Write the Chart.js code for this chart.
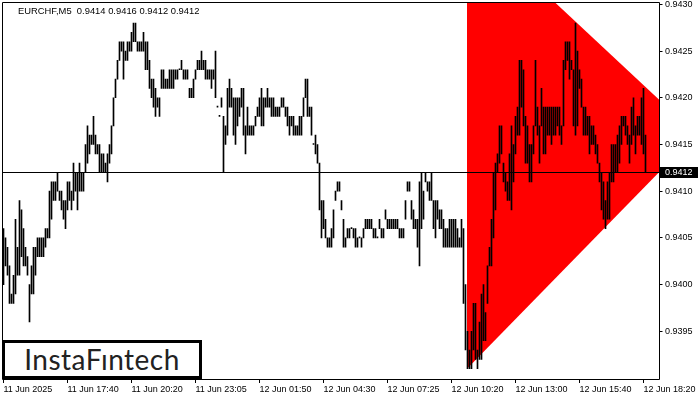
<!DOCTYPE html>
<html><head><meta charset="utf-8">
<script src="https://cdn.jsdelivr.net/npm/chart.js@4.4.1/dist/chart.umd.min.js"></script>
<style>
html,body{margin:0;padding:0;background:#fff;}
#wrap{position:relative;width:700px;height:400px;overflow:hidden;}
canvas{display:block;}
#logo{position:absolute;left:2px;top:340px;width:194px;height:33px;border:3px solid #000;background:#fff;
 font-family:Lato,"Open Sans",sans-serif;font-size:28px;color:#222;text-align:center;line-height:33px;letter-spacing:0.5px;}
</style></head><body>
<div id="wrap"><canvas id="c" width="700" height="400"></canvas><div id="logo">InstaFıntech</div></div>
<script>
const symbolTitle = "EURCHF,M5  0.9414 0.9416 0.9412 0.9412";
const xTickLabels = ["11 Jun 2025","11 Jun 17:40","11 Jun 20:20","11 Jun 23:05","12 Jun 01:50","12 Jun 04:30","12 Jun 07:25","12 Jun 10:20","12 Jun 13:00","12 Jun 15:40","12 Jun 18:20"];
const xTickEvery = 32;
const totalSlots = 328;
const yTickValues = [0.9395,0.9400,0.9405,0.9410,0.9415,0.9420,0.9425,0.9430];
const yMin = 0.93899, yMax = 0.943025;
const currentPrice = 0.9412;
// triangle pattern vertices (bar index, price)
const patternIndex = [231.75, 231.75, 346.3];
const patternPrice = [0.94390, 0.93910, 0.94161];

const highs = [
0.9406,0.9405,0.9404,0.9402,0.9399,0.9401,0.9407,0.9404,0.9409,0.9408,0.9406,0.9404,0.9403,0.9400,0.9402,0.9404,0.9404,0.9405,0.9405,0.9405,
0.9405,0.9406,0.9406,0.9410,0.9411,0.9411,0.9411,0.9412,0.9410,0.9410,0.9409,0.9409,0.9411,0.9411,0.9410,0.9413,0.9412,0.9412,0.9413,0.9412,
0.9412,0.9415,0.9417,0.9416,0.9416,0.9418,0.9416,0.9415,0.9415,0.9414,0.9414,0.9413,0.9414,0.9415,0.9417,0.9420,0.9422,0.9424,0.9426,0.9426,
0.9426,0.9425,0.9426,0.9426,0.9427,0.9428,0.9428,0.9426,0.9426,0.9426,0.9427,0.9426,0.9426,0.9424,0.9422,0.9422,0.9421,0.9420,0.9420,0.9423,
0.9423,0.9422,0.9422,0.9423,0.9423,0.9423,0.9423,0.9423,0.9423,0.9424,0.9423,0.9423,0.9423,0.9421,0.9421,0.9422,0.9423,0.9424,0.9424,0.9425,
0.9424,0.9424,0.9423,0.9423,0.9423,0.9423,0.9425,0.9419,0.9418,0.9420,0.9418,0.9417,0.9421,0.9422,0.9421,0.9420,0.9420,0.9420,0.9420,0.9421,
0.9421,0.9417,0.9419,0.9417,0.9417,0.9417,0.9418,0.9419,0.9420,0.9421,0.9420,0.9420,0.9421,0.9420,0.9420,0.9420,0.9419,0.9419,0.9419,0.9420,
0.9420,0.9419,0.9419,0.9418,0.9418,0.9418,0.9417,0.9417,0.9418,0.9418,0.9420,0.9422,0.9422,0.9419,0.9419,0.9415,0.9416,0.9415,0.9413,0.9409,
0.9409,0.9407,0.9405,0.9405,0.9406,0.9408,0.9410,0.9411,0.9411,0.9409,0.9407,0.9405,0.9406,0.9406,0.9406,0.9406,0.9406,0.9405,0.9405,0.9405,
0.9406,0.9407,0.9407,0.9407,0.9407,0.9406,0.9406,0.9405,0.9407,0.9406,0.9406,0.9408,0.9407,0.9407,0.9407,0.9407,0.9407,0.9407,0.9406,0.9406,
0.9406,0.9409,0.9411,0.9411,0.9409,0.9408,0.9407,0.9407,0.9411,0.9412,0.9410,0.9412,0.9411,0.9411,0.9412,0.9409,0.9409,0.9409,0.9408,0.9408,
0.9407,0.9406,0.9406,0.9407,0.9407,0.9407,0.9407,0.9406,0.9405,0.9407,0.9406,0.9400,0.9395,0.9393,0.9395,0.9398,0.9398,0.9393,0.9396,0.9399,
0.9400,0.9397,0.9402,0.9404,0.9407,0.9412,0.9413,0.9414,0.9417,0.9417,0.9413,0.9412,0.9411,0.9414,0.9417,0.9415,0.9418,0.9419,0.9424,0.9424,
0.9423,0.9418,0.9417,0.9415,0.9415,0.9417,0.9424,0.9419,0.9417,0.9421,0.9419,0.9419,0.9419,0.9419,0.9419,0.9419,0.9419,0.9419,0.9419,0.9417,
0.9424,0.9426,0.9426,0.9426,0.9424,0.9423,0.9428,0.9425,0.9423,0.9422,0.9419,0.9419,0.9418,0.9418,0.9417,0.9417,0.9416,0.9415,0.9413,0.9412,
0.9411,0.9409,0.9411,0.9412,0.9415,0.9415,0.9415,0.9416,0.9417,0.9418,0.9418,0.9418,0.9417,0.9416,0.9419,0.9420,0.9417,0.9418,0.9418,0.9420,
0.9421,0.9416];
const lows = [
0.9400,0.9402,0.9401,0.9398,0.9398,0.9398,0.9399,0.9401,0.9401,0.9403,0.9402,0.9402,0.9401,0.9396,0.9399,0.9399,0.9401,0.9403,0.9403,0.9403,
0.9403,0.9404,0.9405,0.9405,0.9407,0.9409,0.9409,0.9410,0.9409,0.9408,0.9407,0.9406,0.9408,0.9409,0.9408,0.9409,0.9410,0.9408,0.9410,0.9410,
0.9410,0.9412,0.9413,0.9414,0.9415,0.9415,0.9414,0.9414,0.9412,0.9412,0.9412,0.9412,0.9411,0.9413,0.9414,0.9417,0.9420,0.9422,0.9424,0.9425,
0.9422,0.9424,0.9424,0.9425,0.9425,0.9426,0.9426,0.9425,0.9425,0.9425,0.9425,0.9423,0.9423,0.9421,0.9420,0.9419,0.9418,0.9419,0.9418,0.9421,
0.9421,0.9421,0.9421,0.9421,0.9421,0.9421,0.9422,0.9422,0.9423,0.9423,0.9422,0.9422,0.9422,0.9420,0.9420,0.9420,0.9422,0.9423,0.9423,0.9423,
0.9423,0.9422,0.9422,0.9422,0.9421,0.9422,0.9420,0.9419,0.9418,0.9419,0.9412,0.9415,0.9416,0.9419,0.9419,0.9416,0.9415,0.9417,0.9418,0.9419,
0.9416,0.9414,0.9416,0.9416,0.9416,0.9416,0.9417,0.9418,0.9418,0.9417,0.9417,0.9419,0.9419,0.9419,0.9418,0.9418,0.9418,0.9418,0.9418,0.9419,
0.9419,0.9418,0.9417,0.9416,0.9417,0.9416,0.9416,0.9416,0.9416,0.9416,0.9418,0.9420,0.9418,0.9418,0.9416,0.9415,0.9414,0.9413,0.9408,0.9405,
0.9406,0.9405,0.9404,0.9404,0.9404,0.9405,0.9409,0.9410,0.9410,0.9408,0.9404,0.9404,0.9405,0.9405,0.9406,0.9405,0.9404,0.9404,0.9405,0.9404,
0.9405,0.9406,0.9406,0.9406,0.9406,0.9405,0.9405,0.9405,0.9406,0.9405,0.9405,0.9407,0.9406,0.9406,0.9406,0.9406,0.9406,0.9406,0.9405,0.9405,
0.9405,0.9407,0.9410,0.9410,0.9407,0.9406,0.9406,0.9404,0.9402,0.9406,0.9407,0.9411,0.9410,0.9409,0.9409,0.9406,0.9405,0.9407,0.9406,0.9406,
0.9404,0.9404,0.9404,0.9404,0.9404,0.9404,0.9404,0.9404,0.9404,0.9404,0.9398,0.9393,0.9391,0.9391,0.9391,0.9393,0.9392,0.9391,0.9392,0.9392,
0.9394,0.9394,0.9398,0.9402,0.9402,0.9405,0.9408,0.9412,0.9413,0.9414,0.9411,0.9410,0.9409,0.9409,0.9408,0.9411,0.9414,0.9416,0.9416,0.9419,
0.9417,0.9413,0.9413,0.9411,0.9411,0.9414,0.9417,0.9416,0.9413,0.9417,0.9414,0.9414,0.9416,0.9416,0.9415,0.9416,0.9416,0.9417,0.9416,0.9415,
0.9417,0.9423,0.9424,0.9422,0.9423,0.9417,0.9416,0.9417,0.9421,0.9419,0.9416,0.9416,0.9416,0.9414,0.9415,0.9415,0.9414,0.9413,0.9411,0.9408,
0.9407,0.9406,0.9407,0.9407,0.9411,0.9411,0.9412,0.9412,0.9413,0.9415,0.9417,0.9416,0.9415,0.9413,0.9415,0.9416,0.9414,0.9416,0.9416,0.9415,
0.9414,0.9412];

const FONT = '"Liberation Sans", Arial, sans-serif';
const slotLabels = Array.from({length: totalSlots}, (_, i) => String(i));
const barData = highs.map((h, i) => [lows[i], h]);

const mtPlugin = {
  id: 'mt',
  beforeDatasetsDraw(chart) {
    const {ctx, chartArea: a, scales: {x, y}} = chart;
    ctx.save();
    ctx.beginPath(); ctx.rect(a.left, a.top, a.right - a.left + 1, a.bottom - a.top); ctx.clip();
    ctx.fillStyle = '#ff0000';
    ctx.beginPath();
    patternIndex.forEach((v, k) => {
      const px = x.getPixelForValue(v), py = y.getPixelForValue(patternPrice[k]);
      if (k) ctx.lineTo(px, py); else ctx.moveTo(px, py);
    });
    ctx.closePath(); ctx.fill();
    ctx.restore();
  },
  afterDatasetsDraw(chart) {
    const {ctx, scales: {y}} = chart;
    ctx.save();
    const py = Math.round(y.getPixelForValue(currentPrice) - 0.5) + 0.5;
    ctx.strokeStyle = '#000'; ctx.lineWidth = 1;
    ctx.beginPath(); ctx.moveTo(2, py); ctx.lineTo(660, py); ctx.stroke();
    // frame
    ctx.beginPath();
    ctx.moveTo(2.5, 2.5); ctx.lineTo(659.5, 2.5); ctx.lineTo(659.5, 379.5); ctx.lineTo(2.5, 379.5); ctx.closePath();
    ctx.stroke();
    // current price tag
    ctx.fillStyle = '#000';
    ctx.fillRect(660, py - 5.5, 38, 11);
    ctx.fillStyle = '#fff';
    ctx.font = '9px ' + FONT;
    ctx.textBaseline = 'middle'; ctx.textAlign = 'left';
    ctx.fillText(currentPrice.toFixed(4), 665, py + 0.5);
    // title
    ctx.fillStyle = '#000';
    ctx.font = '9.4px ' + FONT;
    ctx.fillText(symbolTitle, 18, 11);
    ctx.restore();
  }
};

new Chart(document.getElementById('c'), {
  type: 'bar',
  data: {
    labels: slotLabels,
    datasets: [{
      data: barData,
      backgroundColor: '#000',
      borderWidth: 0,
      barThickness: 1,
      minBarLength: 1
    }]
  },
  plugins: [mtPlugin],
  options: {
    responsive: false,
    animation: false,
    events: [],
    layout: { padding: { left: 2.5, top: 2, right: 0, bottom: 0 } },
    plugins: { legend: { display: false }, tooltip: { enabled: false }, title: { display: false } },
    scales: {
      x: {
        type: 'category',
        offset: true,
        afterBuildTicks: s => { s.ticks = s.ticks.filter(t => t.value % xTickEvery === 0); },
        afterFit: s => { s.height = 21; s.paddingLeft = 0; s.paddingRight = 0; },
        grid: { drawOnChartArea: false, offset: false, tickLength: 4, color: '#000' },
        border: { display: false },
        ticks: { autoSkip: false, maxRotation: 0, minRotation: 0, align: 'start', padding: 1, color: '#000',
                 font: { family: FONT, size: 9 }, callback: (v, idx) => xTickLabels[idx] }
      },
      y: {
        position: 'right',
        min: yMin, max: yMax,
        afterBuildTicks: s => { s.ticks = yTickValues.map(v => ({ value: v })); },
        afterFit: s => { s.width = 41.5; s.paddingTop = 0; s.paddingBottom = 0; },
        grid: { drawOnChartArea: false, tickLength: 4, color: '#000' },
        border: { display: false },
        ticks: { color: '#000', padding: 2.5, font: { family: FONT, size: 9 }, callback: v => Number(v).toFixed(4) }
      }
    }
  }
});
</script>
</body></html>
